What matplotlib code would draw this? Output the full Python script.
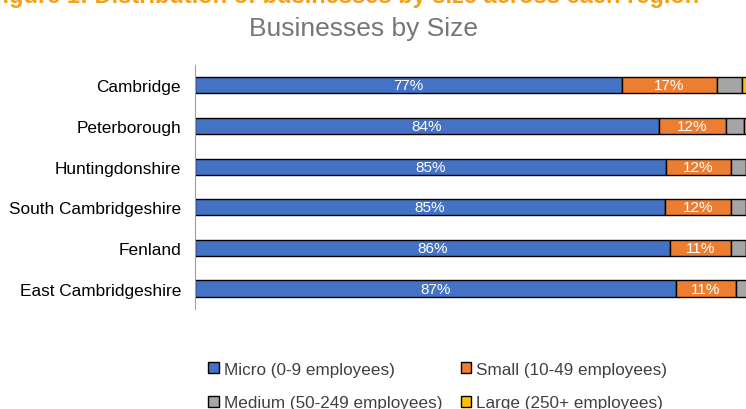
import numpy as np
import matplotlib.pyplot as plt

plt.rcParams['font.family'] = ['Liberation Sans', 'DejaVu Sans']

# regions, top to bottom
REGIONS = ["Cambridge", "Peterborough", "Huntingdonshire",
           "South Cambridgeshire", "Fenland", "East Cambridgeshire"]
# share of businesses (%) in each size band
MICRO = [77.0, 83.6, 84.8, 84.6, 85.6, 86.6]
SMALL = [17.0, 12.0, 11.8, 12.0, 11.0, 10.9]
MEDIUM = [4.5, 3.3, 2.7, 2.7, 2.7, 2.1]
LARGE = [1.5, 1.1, 0.7, 0.7, 0.7, 0.4]

SERIES = [
    ("Micro (0-9 employees)", MICRO, "#4472C4", True),
    ("Small (10-49 employees)", SMALL, "#ED7D31", True),
    ("Medium (50-249 employees)", MEDIUM, "#A5A5A5", False),
    ("Large (250+ employees)", LARGE, "#FFC000", False),
]

fig = plt.figure(figsize=(7.46, 4.10), dpi=100)
ax = fig.add_axes([0.2614, 0.244, 0.744, 0.595])

y = np.arange(len(REGIONS))
left = np.zeros(len(REGIONS))
handles = {}
for name, vals, color, show in SERIES:
    vals = np.array(vals)
    bars = ax.barh(y, vals, left=left, height=0.4, color=color,
                   edgecolor="black", linewidth=1.0, label=name)
    handles[name] = bars
    if show:
        for yi, l, v in zip(y, left, vals):
            ax.text(l + v / 2, yi, f"{v:.0f}%", ha="center", va="center",
                    color="white", fontsize=11)
    left += vals

ax.set_xlim(0, 100)
ax.set_ylim(len(REGIONS) - 0.5, -0.5)
ax.set_yticks(y)
ax.set_yticklabels(REGIONS, fontsize=12.4, color="black")
ax.tick_params(axis="y", length=0, pad=10)
ax.set_xticks([])
for s in ["top", "right", "bottom"]:
    ax.spines[s].set_visible(False)
ax.spines["left"].set_color("#A0A0A0")
ax.spines["left"].set_linewidth(0.8)

fig.text(0.487, 0.929, "Businesses by Size", ha="center", va="center",
         fontsize=19, color="#767676")
fig.text(0.46, 1 - 3 / 410, "Figure 1: Distribution of businesses by size across each region",
         ha="center", va="baseline", fontsize=17, fontweight="bold", color="#F5A01A")

order = ["Micro (0-9 employees)", "Medium (50-249 employees)",
         "Small (10-49 employees)", "Large (250+ employees)"]
leg = fig.legend([handles[n] for n in order], order, ncol=2,
                 loc="center", bbox_to_anchor=(0.587, 0.056), frameon=False,
                 fontsize=12.3, handlelength=0.6, handleheight=0.6,
                 handletextpad=0.3, columnspacing=1.1, labelspacing=1.1)
for t in leg.get_texts():
    t.set_color("#404040")

fig.savefig("out.png", dpi=100)
